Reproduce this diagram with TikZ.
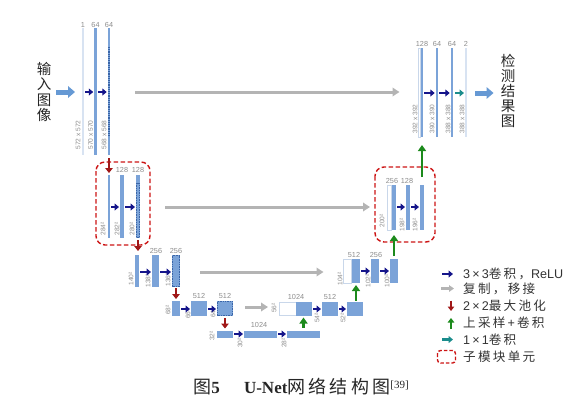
\documentclass[tikz,border=0pt]{standalone}
\usepackage{fontspec}
\setmainfont{Liberation Sans}
\newfontfamily\cjk{Noto Sans CJK SC}
\newfontfamily\cjkl[LetterSpace=18]{Noto Sans CJK SC}
\newfontfamily\tnr{Liberation Serif}
\usetikzlibrary{arrows.meta}
\definecolor{barblue}{HTML}{7BA3D8}
\definecolor{palebar}{HTML}{D8E3F2}
\definecolor{copyedge}{HTML}{C9D7EA}
\definecolor{navy}{HTML}{15158A}
\definecolor{grayarr}{HTML}{B4B4B4}
\definecolor{poolred}{HTML}{A01818}
\definecolor{upgreen}{HTML}{1C8A1C}
\definecolor{tealarr}{HTML}{1A8C8C}
\definecolor{boxred}{HTML}{CC1414}
\definecolor{lblgray}{HTML}{8C8C8C}
\definecolor{dotblue}{HTML}{3A65A8}
\definecolor{bigblue}{HTML}{6699D4}
\begin{document}
\begin{tikzpicture}[x=1pt,y=-1pt,
 bar/.style={fill=barblue, draw=none, inner sep=0pt, outer sep=0pt},
 pale/.style={fill=palebar, draw=none, inner sep=0pt, outer sep=0pt},
 copybar/.style={fill=white, draw=copyedge, line width=0.5pt, inner sep=0pt, outer sep=0pt},
 num/.style={text=lblgray, font=\fontsize{7.3}{8}\selectfont, inner sep=0pt},
 dimlbl/.style={text=lblgray, font=\fontsize{6.6}{7}\selectfont, inner sep=0pt, rotate=90},
 conv/.style={draw=navy, line width=2.4pt, -{Triangle[length=4.5pt,width=7pt]}, shorten <=1pt, shorten >=1pt},
 onebyone/.style={draw=tealarr, line width=2.4pt, -{Triangle[length=4.5pt,width=7pt]}, shorten <=2pt, shorten >=1pt},
 copyarr/.style={draw=grayarr, line width=3pt, -{Triangle[length=7pt,width=8.5pt]}},
 pool/.style={draw=poolred, line width=2.6pt, -{Triangle[length=5pt,width=7.5pt]}},
 upconv/.style={draw=upgreen, line width=2.8pt, -{Triangle[length=6pt,width=8pt]}},
 bigarr/.style={draw=bigblue, line width=5pt, -{Triangle[length=7pt,width=11.5pt]}},
 subbox/.style={draw=boxred, line width=1.4pt, dash pattern=on 4.5pt off 2.5pt, rounded corners=9pt},
 dotov/.style={draw=dotblue, densely dotted, line width=0.7pt},
 legtxt/.style={anchor=west, inner sep=0pt, text=black!80, font=\fontsize{12.6}{14}\selectfont},
 vtxt/.style={inner sep=0pt, align=center, text=black!85, font=\cjk\fontsize{14.5}{15.2}\selectfont}
]
\useasboundingbox (0,0) rectangle (580,408);

% ---------- level 1 ----------
\node[pale, minimum width=2pt, minimum height=127pt] (in1) at (83,91.5) {};
\node[bar, minimum width=2.5pt, minimum height=127pt] (c1a) at (95.5,91.5) {};
\node[bar, minimum width=2.5pt, minimum height=127pt] (c1b) at (109,91.5) {};
\draw[dotov, line width=1.2pt] (109,47) -- (109,137);
\node[num] (n1a) at (83,25) {1};
\node[num] (n1b) at (95.5,25) {64};
\node[num] (n1c) at (109,25) {64};
\node[dimlbl] (d1a) at (78,135) {572 x 572};
\node[dimlbl] (d1b) at (90.5,135) {570 x 570};
\node[dimlbl] (d1c) at (104,135) {568 x 568};
\node[vtxt] (inlabel) at (44,92) {输\\入\\图\\像};
\draw[bigarr, shorten <=5pt, shorten >=7pt] (inlabel.east |- 0,92) -- (in1.west |- 0,92);
\draw[conv] (in1.east |- 0,92) -- (c1a.west |- 0,92);
\draw[conv] (c1a.east |- 0,92) -- (c1b.west |- 0,92);

% ---------- level 2 left ----------
\draw[subbox] (96,162) rectangle (150,245);
\node[bar, minimum width=2pt, minimum height=63pt] (p2) at (109,206.5) {};
\node[bar, minimum width=4pt, minimum height=63pt] (c2a) at (122,206.5) {};
\node[bar, minimum width=4pt, minimum height=63pt] (c2b) at (138,206.5) {};
\draw[dotov] (136.3,183) rectangle (139.7,237);
\node[num] (n2a) at (122,170) {128};
\node[num] (n2b) at (138,170) {128};
\node[dimlbl] (d2a) at (103,229) {284²};
\node[dimlbl] (d2b) at (117,229) {282²};
\node[dimlbl] (d2c) at (132,229) {280²};
\draw[conv] (p2.east |- 0,207) -- (c2a.west |- 0,207);
\draw[conv] (c2a.east |- 0,207) -- (c2b.west |- 0,207);
\draw[pool, shorten <=3pt, shorten >=2pt] (c1b.south) -- (p2.north);

% ---------- level 3 left ----------
\node[bar, minimum width=4pt, minimum height=32pt] (p3) at (137,271) {};
\node[bar, minimum width=7pt, minimum height=32pt] (c3a) at (155.5,271) {};
\node[bar, minimum width=8pt, minimum height=32pt] (c3b) at (176,271) {};
\draw[dotov] (172.6,255.6) rectangle (179.4,286.4);
\node[num] (n3a) at (156,251) {256};
\node[num] (n3b) at (176,251) {256};
\node[dimlbl] (d3a) at (131,279) {140²};
\node[dimlbl] (d3b) at (148,281) {138²};
\node[dimlbl] (d3c) at (168,280) {136²};
\draw[conv] (p3.east |- 0,272) -- (c3a.west |- 0,272);
\draw[conv] (c3a.east |- 0,272) -- (c3b.west |- 0,272);
\draw[pool, shorten <=2pt, shorten >=4pt] (c2b.south) -- (c2b.south |- p3.north);

% ---------- level 4 left ----------
\node[bar, minimum width=8pt, minimum height=15pt] (p4) at (176,308.5) {};
\node[bar, minimum width=16pt, minimum height=15pt] (c4a) at (199,308.5) {};
\node[bar, minimum width=16pt, minimum height=15pt] (c4b) at (225,308.5) {};
\draw[dotov] (217.6,301.6) rectangle (232.4,315.4);
\node[num] (n4a) at (199,296) {512};
\node[num] (n4b) at (225,296) {512};
\node[dimlbl] (d4a) at (168,310) {68²};
\node[dimlbl] (d4b) at (188,314) {66²};
\node[dimlbl] (d4c) at (213,313) {64²};
\draw[conv] (p4.east |- 0,309) -- (c4a.west |- 0,309);
\draw[conv] (c4a.east |- 0,309) -- (c4b.west |- 0,309);
\draw[pool, shorten <=1pt, shorten >=2pt] (c3b.south) -- (p4.north);

% ---------- level 5 ----------
\node[bar, minimum width=16pt, minimum height=7pt] (p5) at (225,334) {};
\node[bar, minimum width=33pt, minimum height=7pt] (c5a) at (260.5,334) {};
\node[bar, minimum width=33pt, minimum height=7pt] (c5b) at (303.5,334) {};
\node[num] (n5a) at (259,325) {1024};
\node[dimlbl] (d5a) at (212,336) {32²};
\node[dimlbl] (d5b) at (240,343) {30²};
\node[dimlbl] (d5c) at (284,343) {28²};
\draw[conv] (p5.east |- 0,334) -- (c5a.west |- 0,334);
\draw[conv] (c5a.east |- 0,334) -- (c5b.west |- 0,334);
\draw[pool, shorten <=2pt, shorten >=2pt] (c4b.south) -- (p5.north);

% ---------- level 4 right ----------
\node[copybar, minimum width=17pt, minimum height=13pt] (cp4) at (287.5,308.5) {};
\node[bar, minimum width=16pt, minimum height=14pt] (u4) at (304,308.5) {};
\node[bar, minimum width=16pt, minimum height=14pt] (c6a) at (330,308.5) {};
\node[bar, minimum width=16pt, minimum height=14pt] (c6b) at (355,308.5) {};
\node[num] (n6a) at (296,297) {1024};
\node[num] (n6b) at (330,297) {512};
\node[dimlbl] (d6a) at (274,308) {56²};
\node[dimlbl] (d6b) at (317,318) {54²};
\node[dimlbl] (d6c) at (343,318) {52²};
\draw[conv] (u4.east |- 0,309) -- (c6a.west |- 0,309);
\draw[conv] (c6a.east |- 0,309) -- (c6b.west |- 0,309);
\draw[upconv, shorten <=3pt, shorten >=2pt] (c5b.north) -- (c5b.north |- u4.south);
\draw[copyarr, shorten <=12pt, shorten >=11pt] (c4b.east |- 0,307) -- (cp4.west |- 0,307);

% ---------- level 3 right ----------
\node[copybar, minimum width=8pt, minimum height=24pt] (cp3) at (347.5,271) {};
\node[bar, minimum width=8pt, minimum height=24pt] (u3) at (356,271) {};
\node[bar, minimum width=8pt, minimum height=24pt] (c7a) at (375,271) {};
\node[bar, minimum width=8pt, minimum height=24pt] (c7b) at (394,271) {};
\node[num] (n7a) at (354,255) {512};
\node[num] (n7b) at (376,255) {256};
\node[dimlbl] (d7a) at (340,279) {104²};
\node[dimlbl] (d7b) at (368,281) {102²};
\node[dimlbl] (d7c) at (387,281) {100²};
\draw[conv] (u3.east |- 0,271) -- (c7a.west |- 0,271);
\draw[conv] (c7a.east |- 0,271) -- (c7b.west |- 0,271);
\draw[upconv, shorten <=1pt, shorten >=2pt] (c6b.north -| u3) -- (u3.south);
\draw[copyarr, shorten <=20pt, shorten >=20pt] (c3b.east |- 0,272) -- (cp3.west |- 0,272);

% ---------- level 2 right ----------
\draw[subbox] (375,167) rectangle (435,242);
\node[copybar, minimum width=4pt, minimum height=45pt] (cp2) at (389,207.5) {};
\node[bar, minimum width=4pt, minimum height=45pt] (u2) at (394,207.5) {};
\node[bar, minimum width=4pt, minimum height=45pt] (c8a) at (408,207.5) {};
\node[bar, minimum width=4pt, minimum height=45pt] (c8b) at (422,207.5) {};
\node[num] (n8a) at (392,181) {256};
\node[num] (n8b) at (407,181) {128};
\node[dimlbl] (d8a) at (382,221) {200²};
\node[dimlbl] (d8b) at (402,225) {198²};
\node[dimlbl] (d8c) at (415,225) {196²};
\draw[conv] (u2.east |- 0,207) -- (c8a.west |- 0,207);
\draw[conv] (c8a.east |- 0,207) -- (c8b.west |- 0,207);
\draw[upconv, shorten <=3pt, shorten >=5pt] (c7b.north) -- (u2.south);
\draw[copyarr, shorten <=25pt, shorten >=17pt] (c2b.east |- 0,207) -- (cp2.west |- 0,207);

% ---------- level 1 right ----------
\node[copybar, minimum width=2pt, minimum height=89pt] (cp1) at (419.5,92.5) {};
\node[bar, minimum width=2.5pt, minimum height=89pt] (u1) at (422,92.5) {};
\node[bar, minimum width=2.5pt, minimum height=89pt] (c9a) at (437,92.5) {};
\node[bar, minimum width=2.5pt, minimum height=89pt] (c9b) at (452,92.5) {};
\node[pale, minimum width=2pt, minimum height=89pt] (out) at (466,92.5) {};
\node[num] (n9a) at (422,44) {128};
\node[num] (n9b) at (437,44) {64};
\node[num] (n9c) at (452,44) {64};
\node[num] (n9d) at (466,44) {2};
\node[dimlbl] (d9a) at (415,119) {392 x 392};
\node[dimlbl] (d9b) at (432,119) {390 x 390};
\node[dimlbl] (d9c) at (448,119) {388 x 388};
\node[dimlbl] (d9d) at (462,119) {388 x 388};
\draw[conv] (u1.east |- 0,93) -- (c9a.west |- 0,93);
\draw[conv] (c9a.east |- 0,93) -- (c9b.west |- 0,93);
\draw[onebyone] (c9b.east |- 0,93) -- (out.west |- 0,93);
\draw[upconv, shorten <=8pt, shorten >=8pt] (c8b.north) -- (u1.south);
\draw[copyarr, shorten <=25pt, shorten >=19pt] (c1b.east |- 0,92) -- (cp1.west |- 0,92);
\node[vtxt] (outlabel) at (508,91) {检\\测\\结\\果\\图};
\draw[bigarr, shorten <=8pt, shorten >=7pt] (out.east |- 0,93) -- (outlabel.west |- 0,93);

% ---------- legend ----------
\coordinate (la1) at (442,274); \coordinate (lb1) at (453,274);
\coordinate (la2) at (441,288.5); \coordinate (lb2) at (454,288.5);
\coordinate (la3) at (451,300.5); \coordinate (lb3) at (451,311);
\coordinate (la4) at (451,329); \coordinate (lb4) at (451,318);
\coordinate (la5) at (442,339.5); \coordinate (lb5) at (453,339.5);
\draw[conv, shorten <=0pt, shorten >=0pt] (la1) -- (lb1);
\draw[copyarr, line width=2.4pt, -{Triangle[length=5pt,width=6.5pt]}] (la2) -- (lb2);
\draw[pool, line width=2.2pt, -{Triangle[length=4.5pt,width=6.5pt]}] (la3) -- (lb3);
\draw[upconv, line width=2.2pt, -{Triangle[length=4.5pt,width=6.5pt]}] (la4) -- (lb4);
\draw[onebyone, shorten <=0pt, shorten >=0pt] (la5) -- (lb5);
\draw[subbox, rounded corners=3pt, dash pattern=on 3.5pt off 2pt] (437.5,350.5) rectangle (455.5,363);
\node[legtxt] (lt1) at (463,274) {3\,×\,3{\cjkl 卷积，}ReLU};
\node[legtxt] (lt2) at (463,288.5) {\cjkl 复制，移接};
\node[legtxt] (lt3) at (463,305.5) {2\,×\,2{\cjkl 最大池化}};
\node[legtxt] (lt4) at (463,323) {{\cjkl 上采样}\,+\,{\cjkl 卷积}};
\node[legtxt] (lt5) at (463,339.5) {1\,×\,1{\cjkl 卷积}};
\node[legtxt] (lt6) at (463,356.5) {\cjkl 子模块单元};

% ---------- caption ----------
\node[inner sep=0pt, text=black!85, font=\fontsize{18}{20}\selectfont] (cap) at (301,387)
 {{\cjk 图}{\tnr\bfseries\fontsize{17}{19}\selectfont 5}\hspace{1.35em}{\tnr\bfseries\fontsize{17}{19}\selectfont U-Net}{\cjkl 网络结构图}\raisebox{0.6ex}{\tnr\fontsize{11}{12}\selectfont[39]}};
\end{tikzpicture}
\end{document}
